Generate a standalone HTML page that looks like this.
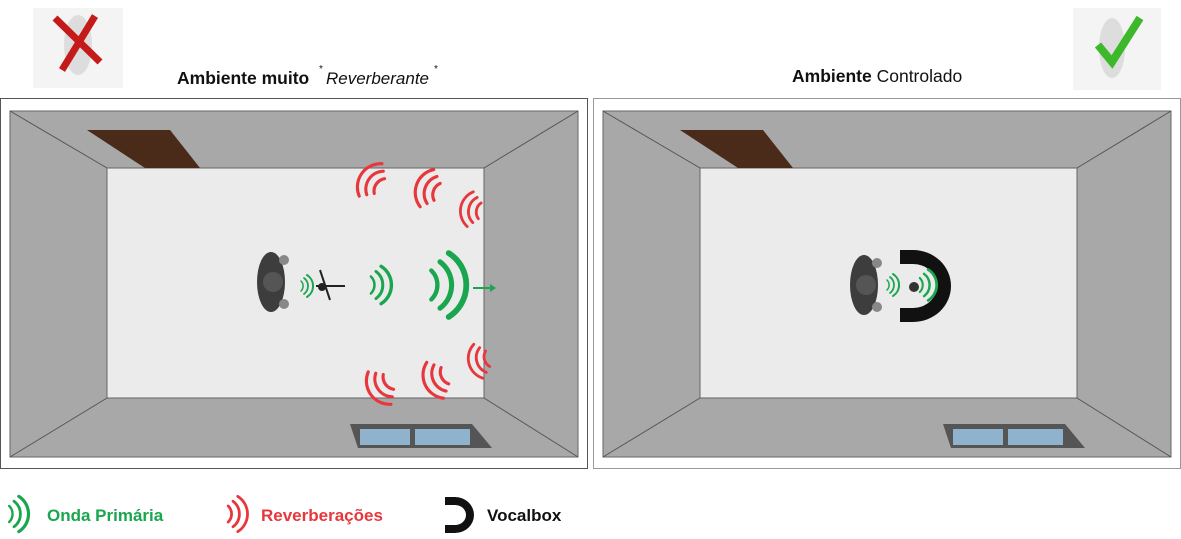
<!DOCTYPE html>
<html><head><meta charset="utf-8"><style>
body{margin:0;background:#fff;width:1181px;height:534px;overflow:hidden;font-family:"Liberation Sans",sans-serif}
</style></head><body>
<svg width="1181" height="534" viewBox="0 0 1181 534" xmlns="http://www.w3.org/2000/svg">
<defs>
<g id="gw" fill="none" stroke="#1aa64e" stroke-linecap="round">
 <path d="M-6,-10 A14,14 0 0 1 -6,10" stroke-width="3"/>
 <path d="M0,-16 A20,20 0 0 1 0,16" stroke-width="3.5"/>
 <path d="M6,-22 A26,26 0 0 1 6,22" stroke-width="4"/>
</g>
<g id="rw" fill="none" stroke="#e8373c" stroke-linecap="round" stroke-width="3.5">
 <path d="M6,-10 A14,14 0 0 0 6,10"/>
 <path d="M0,-16 A20,20 0 0 0 0,16"/>
 <path d="M-6,-22 A26,26 0 0 0 -6,22"/>
</g>
<g id="room">
 <rect x="0" y="0" width="568" height="346" fill="#a8a8a8" stroke="#666" stroke-width="1"/>
 <rect x="97" y="57" width="377" height="230" fill="#ebebeb" stroke="#666" stroke-width="1"/>
 <line x1="0" y1="0" x2="97" y2="57" stroke="#555"/>
 <line x1="568" y1="0" x2="474" y2="57" stroke="#555"/>
 <line x1="0" y1="346" x2="97" y2="287" stroke="#555"/>
 <line x1="568" y1="346" x2="474" y2="287" stroke="#555"/>
 <polygon points="77,19 160,19 190,57 135,57" fill="#4a2a18"/>
 <polygon points="340,313 462,313 482,337 348,337" fill="#555"/>
 <rect x="350" y="318" width="50" height="16" fill="#8fb3cc"/>
 <rect x="405" y="318" width="55" height="16" fill="#8fb3cc"/>
</g>
<g id="person">
 <ellipse cx="0" cy="0" rx="14" ry="30" fill="#3d3d3d"/>
 <circle cx="2" cy="0" r="10" fill="#555"/>
 <circle cx="13" cy="-22" r="5" fill="#888"/>
 <circle cx="13" cy="22" r="5" fill="#888"/>
</g>
</defs>
<rect x="33" y="8" width="90" height="80" fill="#f4f4f4"/>
<ellipse cx="78" cy="45" rx="14" ry="30" fill="#ddd"/>
<line x1="55" y1="18" x2="100" y2="62" stroke="#c41a1a" stroke-width="7"/>
<line x1="95" y1="16" x2="62" y2="70" stroke="#c41a1a" stroke-width="7"/>
<rect x="1073" y="8" width="88" height="82" fill="#f4f4f4"/>
<ellipse cx="1112" cy="48" rx="13" ry="30" fill="#ddd"/>
<path d="M1098,45 L1112,62 L1140,18" fill="none" stroke="#3cb82a" stroke-width="8"/>
<text x="177" y="84" font-size="17.5" font-weight="bold" fill="#111">Ambiente muito</text>
<text x="319" y="72" font-size="10" fill="#111">*</text>
<text x="326" y="84" font-size="17" font-style="italic" fill="#111">Reverberante</text>
<text x="434" y="72" font-size="10" fill="#111">*</text>
<text x="792" y="82" font-size="17.5" fill="#111"><tspan font-weight="bold">Ambiente</tspan> Controlado</text>
<rect x="0.5" y="98.5" width="587" height="370" fill="#fff" stroke="#555"/>
<rect x="593.5" y="98.5" width="587" height="370" fill="#fff" stroke="#999"/>
<g transform="translate(10,111)"><use href="#room"/></g>
<g transform="translate(603,111)"><use href="#room"/></g>
<use href="#person" transform="translate(271,282)"/>
<g transform="translate(304,286) scale(0.5)"><use href="#gw"/></g>
<line x1="320" y1="270" x2="330" y2="300" stroke="#222" stroke-width="2"/>
<line x1="316" y1="286" x2="345" y2="286" stroke="#222" stroke-width="2"/>
<circle cx="322" cy="287" r="4" fill="#222"/>
<g transform="translate(376,285) scale(0.85)"><use href="#gw"/></g>
<g transform="translate(440,285) scale(1.45)"><use href="#gw"/></g>
<line x1="473" y1="288" x2="490" y2="288" stroke="#1aa64e" stroke-width="2"/>
<polygon points="490,284 496,288 490,292" fill="#1aa64e"/>
<g transform="translate(375,183) rotate(35) scale(0.9)"><use href="#rw"/></g>
<g transform="translate(432,190) rotate(20) scale(0.9)"><use href="#rw"/></g>
<g transform="translate(475,210) rotate(10) scale(0.8)"><use href="#rw"/></g>
<g transform="translate(384,385) rotate(-35) scale(0.9)"><use href="#rw"/></g>
<g transform="translate(440,378) rotate(-25) scale(0.9)"><use href="#rw"/></g>
<g transform="translate(483,360) rotate(-15) scale(0.8)"><use href="#rw"/></g>
<use href="#person" transform="translate(864,285)"/>
<g transform="translate(890,285) scale(0.5)"><use href="#gw"/></g>
<path d="M900,250 L913,250 A38,36 0 0 1 913,322 L900,322 L900,308 L913,308 A24,22 0 0 0 913,264 L900,264 Z" fill="#111"/>
<g transform="translate(924,285) scale(0.7)"><use href="#gw"/></g>
<circle cx="914" cy="287" r="5" fill="#333"/>
<g transform="translate(14,514) scale(0.8)"><use href="#gw"/></g>
<text x="47" y="521" font-size="17" font-weight="bold" fill="#1aa64e">Onda Primária</text>
<g transform="translate(233,514) scale(0.8) rotate(180)"><use href="#rw"/></g>
<text x="261" y="521" font-size="17" font-weight="bold" fill="#e8373c">Reverberações</text>
<path d="M445,497 L455,497 A19,18 0 0 1 455,533 L445,533 L445,525 L455,525 A11,10 0 0 0 455,505 L445,505 Z" fill="#111"/>
<text x="487" y="521" font-size="17" font-weight="bold" fill="#111">Vocalbox</text>
</svg>
</body></html>
